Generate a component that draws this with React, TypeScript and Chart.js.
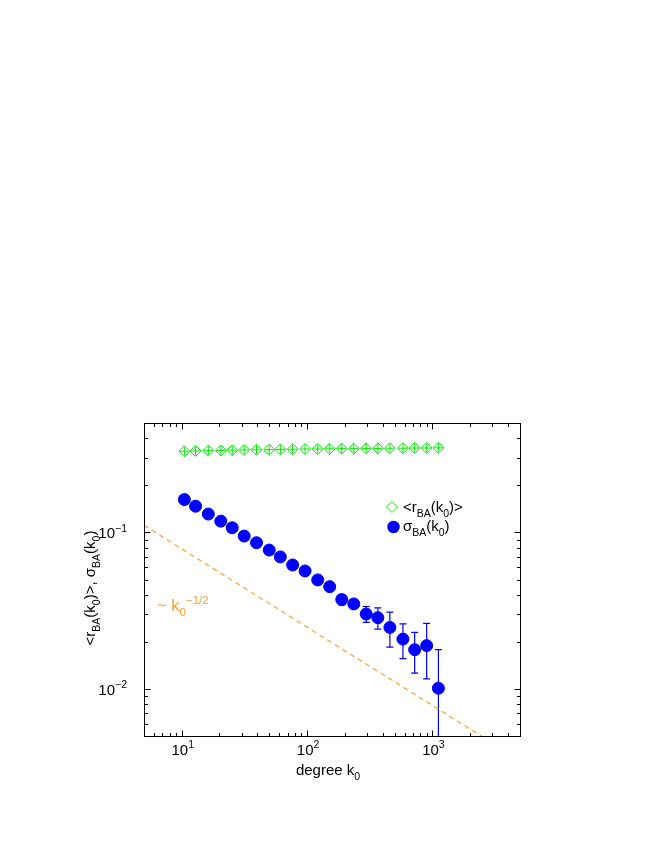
import React, { useEffect, useRef } from 'react';
import { Chart, registerables } from 'chart.js';

Chart.register(...registerables);

// ---------- data ----------
const degreeK = [10.5, 12.9, 16.3, 20.5, 25.3, 31.5, 39.5, 49.9, 61.2, 76.7, 96.4, 121.6, 151.6, 189.2, 236, 296.5, 367, 458, 582, 722, 900, 1117];
const rMean = [0.330, 0.331, 0.333, 0.334, 0.335, 0.336, 0.337, 0.338, 0.339, 0.340, 0.341, 0.341, 0.342, 0.343, 0.343, 0.344, 0.344, 0.345, 0.345, 0.346, 0.346, 0.347];
const sigma = [0.162, 0.147, 0.131, 0.118, 0.107, 0.0947, 0.0859, 0.0771, 0.0697, 0.0619, 0.0567, 0.0497, 0.045, 0.0372, 0.0349, 0.0301, 0.0285, 0.0247, 0.0208, 0.0178, 0.0189, 0.0101];
const sigmaErr = [0.001, 0.001, 0.001, 0.001, 0.001, 0.001, 0.001, 0.0012, 0.0012, 0.0013, 0.0014, 0.0015, 0.0018, 0.0028, 0.002, 0.0035, 0.0044, 0.0062, 0.0052, 0.0052, 0.0073, 0.0077];
const guideK = [5, 2500];
const guideY = [0.111, 0.00496];
const xTickExponents = [1, 2, 3];
const yTickExponents = [-2, -1];
const xRange = [5, 5000];
const yRange = [0.005, 0.5];

// ---------- styles ----------
const BLUE = '#0000ff';
const GREEN = '#00e600';
const ORANGE = '#ffa030';
const FONT = '"Liberation Sans", Arial, Helvetica, sans-serif';

type Seg = [string, number]; // 0 normal, 1 sub, 2 sup

function segFont(size: number, mode: number) {
  return `${mode ? size * 0.7 : size}px ${FONT}`;
}

function richWidth(ctx: CanvasRenderingContext2D, segs: Seg[], size: number) {
  let w = 0;
  for (const [t, m] of segs) {
    ctx.font = segFont(size, m);
    w += ctx.measureText(t).width;
  }
  return w;
}

function drawRich(ctx: CanvasRenderingContext2D, segs: Seg[], x: number, y: number, size: number, align: string, color: string) {
  const w = richWidth(ctx, segs, size);
  let cx = align === 'center' ? x - w / 2 : align === 'right' ? x - w : x;
  ctx.fillStyle = color;
  ctx.textBaseline = 'alphabetic';
  ctx.textAlign = 'left';
  for (const [t, m] of segs) {
    ctx.font = segFont(size, m);
    const dy = m === 1 ? size * 0.3 : m === 2 ? -size * 0.44 : 0;
    ctx.fillText(t, cx, y + dy);
    cx += ctx.measureText(t).width;
  }
}

function logTicks(min: number, max: number) {
  const out: { v: number; major: boolean }[] = [];
  for (let d = Math.floor(Math.log10(min)) - 1; d <= Math.ceil(Math.log10(max)); d++) {
    for (let m = 1; m <= 9; m++) {
      const v = m * Math.pow(10, d);
      if (v >= min * 0.999 && v <= max * 1.001) out.push({ v, major: m === 1 });
    }
  }
  return out;
}

const errorBarPlugin = {
  id: 'errorBars',
  beforeDatasetsDraw(chart: any) {
    const { ctx, chartArea, scales } = chart;
    const xs = scales.x;
    const ys = scales.y;
    ctx.save();
    ctx.beginPath();
    ctx.rect(chartArea.left, chartArea.top, chartArea.right - chartArea.left, chartArea.bottom - chartArea.top);
    ctx.clip();
    ctx.strokeStyle = BLUE;
    ctx.lineWidth = 1.2;
    for (let i = 0; i < degreeK.length; i++) {
      const x = xs.getPixelForValue(degreeK[i]);
      const yTop = ys.getPixelForValue(sigma[i] + sigmaErr[i]);
      const yBot = ys.getPixelForValue(Math.max(sigma[i] - sigmaErr[i], 1e-6));
      ctx.beginPath();
      ctx.moveTo(x, yTop);
      ctx.lineTo(x, yBot);
      ctx.moveTo(x - 3.5, yTop);
      ctx.lineTo(x + 3.5, yTop);
      ctx.moveTo(x - 3.5, yBot);
      ctx.lineTo(x + 3.5, yBot);
      ctx.stroke();
    }
    ctx.restore();
  },
};

const framePlugin = {
  id: 'frame',
  afterDraw(chart: any) {
    const { ctx, chartArea, scales } = chart;
    const xs = scales.x;
    const ys = scales.y;
    const L = Math.round(chartArea.left) + 0.5;
    const R = Math.round(chartArea.right) + 0.5;
    const T = Math.round(chartArea.top) + 0.5;
    const B = Math.round(chartArea.bottom) + 0.5;
    ctx.save();
    ctx.strokeStyle = '#000';
    ctx.lineWidth = 1;
    ctx.strokeRect(L, T, R - L, B - T);
    ctx.beginPath();
    for (const t of logTicks(xRange[0], xRange[1])) {
      const x = Math.round(xs.getPixelForValue(t.v)) + 0.5;
      const len = t.major ? 6 : 3.5;
      ctx.moveTo(x, B);
      ctx.lineTo(x, B - len);
      ctx.moveTo(x, T);
      ctx.lineTo(x, T + len);
    }
    for (const t of logTicks(yRange[0], yRange[1])) {
      const y = Math.round(ys.getPixelForValue(t.v)) + 0.5;
      const len = t.major ? 6 : 3.5;
      ctx.moveTo(L, y);
      ctx.lineTo(L + len, y);
      ctx.moveTo(R, y);
      ctx.lineTo(R - len, y);
    }
    ctx.stroke();

    // tick labels
    for (const e of xTickExponents) {
      const x = xs.getPixelForValue(Math.pow(10, e));
      drawRich(ctx, [['10', 0], [String(e), 2]], x + 1, 755, 15, 'center', '#000');
    }
    for (const e of yTickExponents) {
      const y = ys.getPixelForValue(Math.pow(10, e));
      drawRich(ctx, [['10', 0], ['\u2212' + String(-e), 2]], 127, y + 6, 15, 'right', '#000');
    }

    // axis titles
    drawRich(ctx, [['degree k', 0], ['0', 1]], 328, 775, 15, 'center', '#000');
    ctx.save();
    ctx.translate(95, 588);
    ctx.rotate(-Math.PI / 2);
    drawRich(
      ctx,
      [['<r', 0], ['BA', 1], ['(k', 0], ['0', 1], [')>, \u03c3', 0], ['BA', 1], ['(k', 0], ['0', 1], [')', 0]],
      0,
      0,
      15,
      'center',
      '#000'
    );
    ctx.restore();

    // legend
    ctx.strokeStyle = GREEN;
    ctx.lineWidth = 1;
    ctx.beginPath();
    ctx.moveTo(392, 501.5);
    ctx.lineTo(397.5, 507);
    ctx.lineTo(392, 512.5);
    ctx.lineTo(386.5, 507);
    ctx.closePath();
    ctx.stroke();
    ctx.fillStyle = BLUE;
    ctx.beginPath();
    ctx.arc(393.5, 527, 6.2, 0, Math.PI * 2);
    ctx.fill();
    drawRich(ctx, [['<r', 0], ['BA', 1], ['(k', 0], ['0', 1], [')>', 0]], 403, 512, 15, 'left', '#000');
    drawRich(ctx, [['\u03c3', 0], ['BA', 1], ['(k', 0], ['0', 1], [')', 0]], 403, 531, 15, 'left', '#000');

    // annotation
    drawRich(ctx, [['~ k', 0], ['0', 1], ['\u22121/2', 2]], 157, 611, 16.5, 'left', ORANGE);
    ctx.restore();
  },
};

const App = () => {
  const ref = useRef<HTMLCanvasElement>(null);
  useEffect(() => {
    const canvas = ref.current;
    if (!canvas) return;
    const chart = new Chart(canvas, {
      type: 'scatter',
      data: {
        datasets: [
          {
            label: 'sigma',
            data: degreeK.map((k, i) => ({ x: k, y: sigma[i] })),
            pointStyle: 'circle',
            pointRadius: 6,
            backgroundColor: BLUE,
            borderColor: BLUE,
            borderWidth: 1,
            order: 1,
          },
          {
            label: 'r diamond',
            data: degreeK.map((k, i) => ({ x: k, y: rMean[i] })),
            pointStyle: 'rectRot',
            pointRadius: 5.5,
            backgroundColor: 'rgba(0,0,0,0)',
            borderColor: GREEN,
            borderWidth: 1,
            order: 2,
          },
          {
            label: 'r cross',
            data: degreeK.map((k, i) => ({ x: k, y: rMean[i] })),
            pointStyle: 'cross',
            pointRadius: 4.5,
            backgroundColor: 'rgba(0,0,0,0)',
            borderColor: GREEN,
            borderWidth: 1,
            order: 3,
          },
          {
            label: 'guide',
            data: guideK.map((k, i) => ({ x: k, y: guideY[i] })),
            showLine: true,
            pointRadius: 0,
            borderColor: ORANGE,
            borderWidth: 1.2,
            borderDash: [5, 4],
            order: 4,
          },
        ],
      },
      options: {
        responsive: false,
        animation: false,
        devicePixelRatio: 1,
        events: [],
        layout: { padding: { left: 144, right: 144, top: 423, bottom: 124 } },
        plugins: { legend: { display: false }, tooltip: { enabled: false } },
        scales: {
          x: { type: 'logarithmic', min: xRange[0], max: xRange[1], display: false },
          y: { type: 'logarithmic', min: yRange[0], max: yRange[1], display: false },
        },
      },
      plugins: [errorBarPlugin, framePlugin],
    });
    return () => chart.destroy();
  }, []);
  return (
    <div style={{ position: 'absolute', left: 0, top: 0, width: 664, height: 860, background: '#fff' }}>
      <canvas ref={ref} width={664} height={860} style={{ display: 'block', width: 664, height: 860 }} />
    </div>
  );
};

export default App;
